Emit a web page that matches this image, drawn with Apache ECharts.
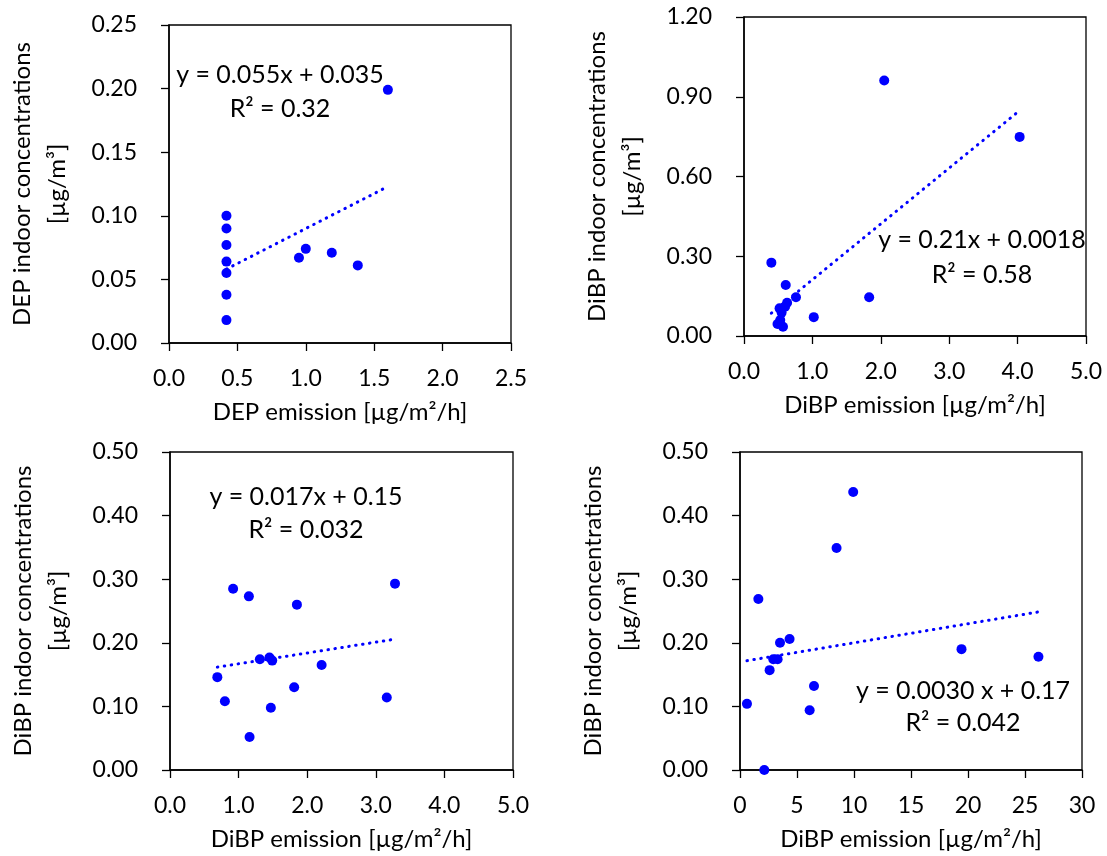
<!DOCTYPE html>
<html>
<head>
<meta charset="utf-8">
<title>Phthalate emission vs indoor concentrations</title>
<script src="https://cdn.jsdelivr.net/npm/echarts@6/dist/echarts.min.js"></script>
<style>
    html, body { margin: 0; padding: 0; background: #fff; }
    #scatter_panels { width: 1107px; height: 856px; }
</style>
</head>
<body>
<div id="scatter_panels"></div>
<script>

// Data
// ------------------------------

// Panel 1 - DEP
var depEmission = [0.42, 0.42, 0.42, 0.42, 0.42, 0.42, 0.42, 0.95, 1.00, 1.19, 1.38, 1.60];
var depIndoor   = [0.100, 0.090, 0.077, 0.064, 0.055, 0.038, 0.018, 0.067, 0.074, 0.071, 0.061, 0.199];

// Panel 2 - DiBP
var dibpEmissionA = [0.40, 0.61, 0.76, 1.83, 2.05, 4.03, 1.02, 0.63, 0.60, 0.52, 0.55, 0.53, 0.49, 0.57];
var dibpIndoorA   = [0.276, 0.192, 0.146, 0.146, 0.961, 0.749, 0.071, 0.125, 0.110, 0.104, 0.088, 0.060, 0.045, 0.035];

// Panel 3 - DiBP
var dibpEmissionB = [0.92, 1.15, 1.85, 3.28, 1.31, 1.45, 1.49, 2.21, 0.69, 0.80, 1.81, 1.47, 3.16, 1.16];
var dibpIndoorB   = [0.285, 0.273, 0.260, 0.293, 0.174, 0.177, 0.172, 0.165, 0.146, 0.108, 0.130, 0.098, 0.114, 0.052];

// Panel 4 - DiBP
var dibpEmissionC = [9.93, 8.47, 1.61, 4.35, 3.51, 2.92, 3.30, 2.60, 0.61, 2.13, 6.49, 6.11, 19.43, 26.18];
var dibpIndoorC   = [0.437, 0.349, 0.269, 0.206, 0.200, 0.174, 0.174, 0.157, 0.104, 0.000, 0.132, 0.094, 0.190, 0.178];

// Linear trend lines (as printed on the chart)
var trendSlope     = [0.055, 0.21, 0.017, 0.0030];
var trendIntercept = [0.035, 0.0018, 0.15, 0.17];
var trendEquation  = ['y = 0.055x + 0.035', 'y = 0.21x + 0.0018', 'y = 0.017x + 0.15', 'y = 0.0030 x + 0.17'];
var trendR2        = ['R² = 0.32', 'R² = 0.58', 'R² = 0.032', 'R² = 0.042'];

// Axis texts and scales
var xAxisNames = ['DEP emission [µg/m²/h]', 'DiBP emission [µg/m²/h]', 'DiBP emission [µg/m²/h]', 'DiBP emission [µg/m²/h]'];
var yAxisNames = ['DEP indoor concentrations\n[µg/m³]', 'DiBP indoor concentrations\n[µg/m³]',
                  'DiBP indoor concentrations\n[µg/m³]', 'DiBP indoor concentrations\n[µg/m³]'];
var xMax       = [2.5, 5, 5, 30];
var xStep      = [0.5, 1, 1, 5];
var xDecimals  = [1, 1, 1, 0];
var yMax       = [0.25, 1.2, 0.5, 0.5];
var yStep      = [0.05, 0.3, 0.1, 0.1];


// Setup module
// ------------------------------

var EchartsScatterPanels = function () {

    var _scatterPanels = function () {
        if (typeof echarts == 'undefined') {
            console.warn('Warning - echarts.min.js is not loaded.');
            return;
        }

        var panels_element = document.getElementById('scatter_panels');
        if (!panels_element) {
            return;
        }

        var panels = echarts.init(panels_element);

        var fontFamily = 'Lato, "Open Sans", sans-serif';
        var blue = '#0000ff';

        var xs = [depEmission, dibpEmissionA, dibpEmissionB, dibpEmissionC];
        var ys = [depIndoor, dibpIndoorA, dibpIndoorB, dibpIndoorC];

        // Plot areas (px)
        var grids = [
            { left: 169, top: 25, width: 342, height: 318 },
            { left: 744, top: 17, width: 342, height: 319 },
            { left: 170, top: 452, width: 343, height: 318 },
            { left: 740, top: 452, width: 342, height: 318 }
        ];

        // Equation label centres (px)
        var labelPos = [
            [280, 75, 109],
            [982, 240, 275],
            [306, 497, 530],
            [963, 691, 723]
        ];

        var grid = [], xAxis = [], yAxis = [], series = [], graphic = [];

        for (var i = 0; i < 4; i++) {
            grid.push({
                left: grids[i].left,
                top: grids[i].top,
                width: grids[i].width,
                height: grids[i].height,
                show: true,
                borderColor: '#000',
                borderWidth: 1.3,
                containLabel: false
            });

            xAxis.push({
                type: 'value',
                gridIndex: i,
                min: 0,
                max: xMax[i],
                interval: xStep[i],
                name: xAxisNames[i],
                nameLocation: 'middle',
                nameGap: 57,
                nameTextStyle: { color: '#000', fontFamily: fontFamily, fontSize: 24 },
                axisLine: { show: true, onZero: false, lineStyle: { color: '#000', width: 1.5 } },
                axisTick: { show: true, inside: false, length: 8, lineStyle: { color: '#000', width: 1.3 } },
                axisLabel: {
                    color: '#000',
                    fontFamily: fontFamily,
                    fontSize: 23,
                    margin: 24,
                    formatter: (function (d) {
                        return function (v) { return v.toFixed(d); };
                    })(xDecimals[i])
                },
                splitLine: { show: false }
            });

            yAxis.push({
                type: 'value',
                gridIndex: i,
                min: 0,
                max: yMax[i],
                interval: yStep[i],
                name: yAxisNames[i],
                nameLocation: 'middle',
                nameRotate: 90,
                nameGap: 94,
                nameTextStyle: { color: '#000', fontFamily: fontFamily, fontSize: 24, lineHeight: 35 },
                axisLine: { show: true, onZero: false, lineStyle: { color: '#000', width: 1.5 } },
                axisTick: { show: true, inside: false, length: 8, lineStyle: { color: '#000', width: 1.3 } },
                axisLabel: {
                    color: '#000',
                    fontFamily: fontFamily,
                    fontSize: 23,
                    margin: 32,
                    formatter: function (v) { return v.toFixed(2); }
                },
                splitLine: { show: false }
            });

            // Points
            var pts = [];
            for (var k = 0; k < xs[i].length; k++) {
                pts.push([xs[i][k], ys[i][k]]);
            }
            series.push({
                type: 'scatter',
                xAxisIndex: i,
                yAxisIndex: i,
                symbolSize: 10,
                clip: false,
                itemStyle: { color: blue, opacity: 1 },
                data: pts,
                z: 3
            });

            // Trend line over the data range
            var x0 = Math.min.apply(null, xs[i]);
            var x1 = Math.max.apply(null, xs[i]);
            series.push({
                type: 'line',
                xAxisIndex: i,
                yAxisIndex: i,
                symbol: 'none',
                silent: true,
                lineStyle: { color: blue, width: 3, type: [0.5, 6.5], cap: 'round' },
                data: [
                    [x0, trendSlope[i] * x0 + trendIntercept[i]],
                    [x1, trendSlope[i] * x1 + trendIntercept[i]]
                ],
                z: 2
            });

            // Equation + R²
            graphic.push({
                type: 'text',
                x: labelPos[i][0],
                y: labelPos[i][1],
                style: {
                    text: trendEquation[i],
                    fill: '#000',
                    font: '25px ' + fontFamily,
                    textAlign: 'center',
                    textVerticalAlign: 'middle'
                }
            });
            graphic.push({
                type: 'text',
                x: labelPos[i][0],
                y: labelPos[i][2],
                style: {
                    text: trendR2[i],
                    fill: '#000',
                    font: '25px ' + fontFamily,
                    textAlign: 'center',
                    textVerticalAlign: 'middle'
                }
            });
        }

        panels.setOption({
            animation: false,
            backgroundColor: '#fff',
            textStyle: { fontFamily: fontFamily },
            grid: grid,
            xAxis: xAxis,
            yAxis: yAxis,
            series: series,
            graphic: graphic
        });

        window.addEventListener('resize', function () {
            panels.resize();
        });
    };

    return {
        init: function () {
            _scatterPanels();
        }
    }
}();


// Initialize module
// ------------------------------

document.addEventListener('DOMContentLoaded', function () {
    EchartsScatterPanels.init();
});
</script>
</body>
</html>
